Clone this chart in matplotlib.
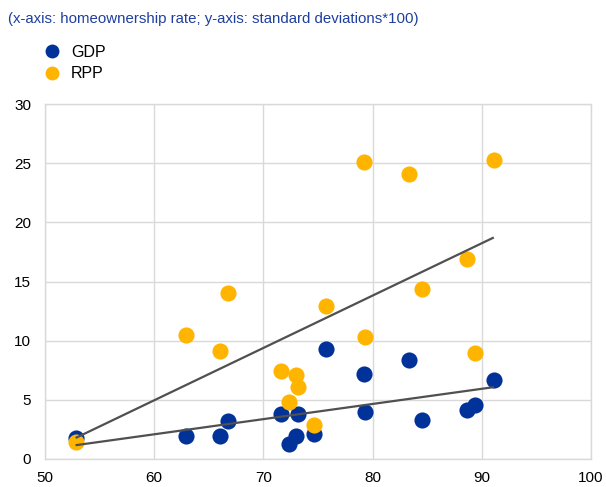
import numpy as np
import matplotlib
matplotlib.use("Agg")
import matplotlib.pyplot as plt
from matplotlib.lines import Line2D

plt.rcParams['font.family'] = ['Liberation Sans', 'DejaVu Sans']

# homeownership rate per country
homeownership = [52.8, 62.9, 66.0, 66.8, 71.6, 73.2, 72.3, 73.0, 74.6, 75.7,
                 79.2, 79.3, 83.3, 84.55, 88.6, 89.4, 91.1]
gdp = [1.75, 1.95, 1.95, 3.2, 3.8, 3.8, 1.3, 1.97, 2.1, 9.3,
       7.2, 3.95, 8.4, 3.3, 4.1, 4.6, 6.7]
rpp = [1.4, 10.5, 9.1, 14.0, 7.4, 6.1, 4.8, 7.1, 2.9, 12.9,
       25.1, 10.3, 24.1, 14.4, 16.9, 9.0, 25.3]

series_names = ["GDP", "RPP"]
title = "(x-axis: homeownership rate; y-axis: standard deviations*100)"
xticks = [50, 60, 70, 80, 90, 100]
yticks = [0, 5, 10, 15, 20, 25, 30]

BLUE = "#003299"
ORANGE = "#FFB400"
LINE = "#505050"
GRID = "#D9D9D9"

fig = plt.figure(figsize=(6.06, 4.87), dpi=100)
ax = fig.add_axes([45/606, 28/487, 546/606, 355/487])

x = np.array(homeownership)
ax.scatter(x, gdp, s=135, color=BLUE, zorder=3, linewidths=0)
ax.scatter(x, rpp, s=135, color=ORANGE, zorder=4, linewidths=0)

xs = np.array([x.min(), x.max()])
for series in (gdp, rpp):
    b, a = np.polyfit(x, series, 1)
    ax.plot(xs, a + b * xs, color=LINE, lw=1.6, zorder=5, solid_capstyle='butt')

ax.set_xlim(50, 100)
ax.set_ylim(0, 30)
ax.set_xticks(xticks)
ax.set_yticks(yticks)
ax.grid(True, color=GRID, lw=1, zorder=0)
ax.set_axisbelow(True)
for sp in ax.spines.values():
    sp.set_color(GRID)
    sp.set_linewidth(1)
ax.tick_params(axis='both', length=0, labelsize=11, colors="#000000")
ax.tick_params(axis='y', pad=10)
ax.tick_params(axis='x', pad=9)

fig.text(8/606, 1 - 19/487, title, color="#1F3F9E", fontsize=10.8, va="center", ha="left")

handles = [Line2D([], [], marker='o', ls='none', ms=10, mec='none', mfc=c) for c in (BLUE, ORANGE)]
leg = fig.legend(handles=handles, labels=series_names,
                 loc="upper left", bbox_to_anchor=(42/606, 1 - 45/487),
                 frameon=False, fontsize=11.5, handletextpad=0.62,
                 labelspacing=0.4, handlelength=1.2, borderaxespad=0, borderpad=0)

fig.savefig("out.png", dpi=100)
